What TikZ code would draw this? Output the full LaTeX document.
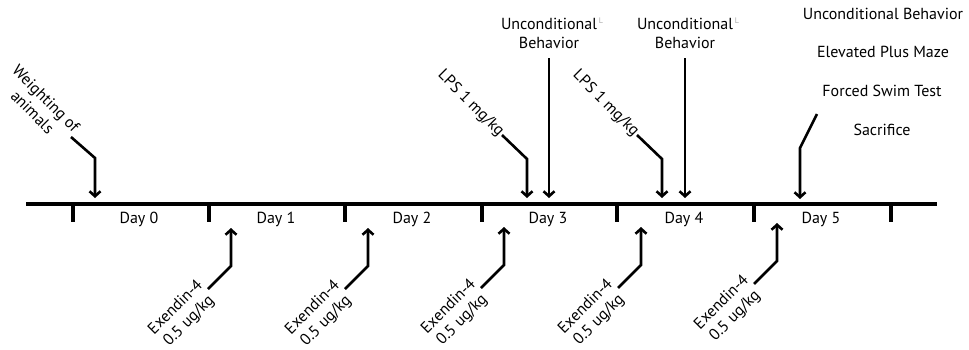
\documentclass[tikz,border=0pt]{standalone}
\usepackage{fontspec}
\setmainfont{PT Sans}
\usetikzlibrary{arrows.meta}
\begin{document}
\begin{tikzpicture}[x=1pt,y=-1pt,
  axisline/.style={line width=4.5pt},
  tickline/.style={line width=4pt},
  arr/.style={line width=2.6pt,line join=miter,-{Straight Barb[length=5pt,width=11pt]}},
  lbl/.style={font=\fontsize{16}{19}\selectfont, inner sep=1pt, align=center},
  marker/.style={font=\fontsize{8}{9}\selectfont, text=black!35, inner sep=0pt}
]
\useasboundingbox (0,0) rectangle (969,349);
% axis
\coordinate (axL) at (26,204);
\coordinate (axR) at (937,204);
\draw[axisline] (axL) -- (axR);
% ticks
\foreach \i/\x in {0/73,1/209,2/345,3/482,4/617,5/754,6/891}{
  \coordinate (t\i) at (\x,202);
  \coordinate (tb\i) at (\x,222);
  \draw[tickline] (t\i) -- (tb\i);
}
% day labels
\foreach \i/\x in {0/139,1/276,2/412,3/548,4/684,5/821}{
  \node[lbl] (day\i) at (\x,219) {Day \i};
}
% Weighting of animals
\node[lbl, rotate=-45, anchor=east] (weigh) at (71,137) {Weighting of\\animals};
\coordinate (wE) at (95,158);
\coordinate (wT) at (95,198);
\draw[arr] (weigh.east) -- (wE) -- (wT);
% Exendin arrows
\foreach \i/\x/\ye/\yt in {1/231/266/228,2/368/266/228,3/504/265/227,4/641/265/227,5/777/261/223}{
  \node[lbl, rotate=45, anchor=east] (ex\i) at (\x-23,\ye+23) {Exendin-4\\0.5 ug/kg};
  \coordinate (exE\i) at (\x,\ye);
  \coordinate (exT\i) at (\x,\yt);
  \draw[arr] (ex\i.east) -- (exE\i) -- (exT\i);
}
% LPS arrows
\foreach \i/\x in {3/527,4/662}{
  \node[lbl, rotate=-45, anchor=east] (lps\i) at (\x-25,135) {LPS 1 mg/kg};
  \coordinate (lpsE\i) at (\x,159);
  \coordinate (lpsT\i) at (\x,198);
  \draw[arr] (lps\i.east) -- (lpsE\i) -- (lpsT\i);
}
% Unconditional behavior arrows
\foreach \i/\x in {3/549,4/685}{
  \node[lbl] (ub\i) at (\x,33) {Unconditional\\Behavior};
  \node[marker] (mk\i) at (\x+52,21) {L};
  \coordinate (ubT\i) at (\x,198);
  \draw[arr] (\x,58) -- (ubT\i);
}
% Day 5 list
\node[lbl] (l1) at (883,14) {Unconditional Behavior};
\node[lbl] (l2) at (883,52) {Elevated Plus Maze};
\node[lbl] (l3) at (882,91) {Forced Swim Test};
\node[lbl] (l4) at (882,130) {Sacrifice};
\coordinate (d5S) at (817,114);
\coordinate (d5E) at (800,148);
\coordinate (d5T) at (800,199);
\draw[arr] (d5S) -- (d5E) -- (d5T);
\end{tikzpicture}
\end{document}
